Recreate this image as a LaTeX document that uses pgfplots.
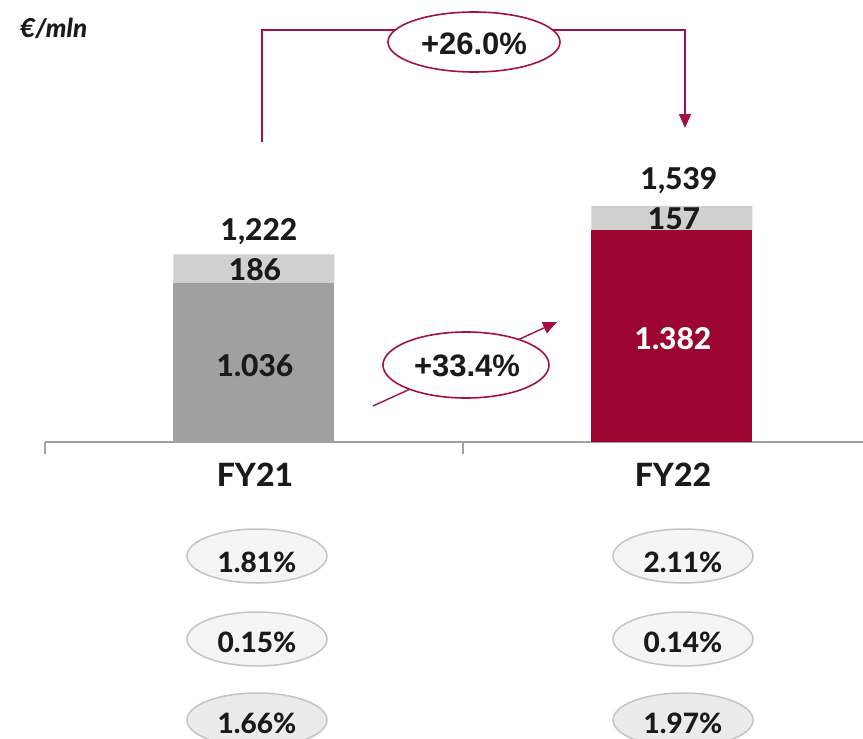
\documentclass[border=0pt]{standalone}
\usepackage{fontspec}
\setmainfont{Lato}[BoldFont={Lato Heavy},BoldItalicFont={Lato Heavy Italic}]
\newfontfamily\arialb{Liberation Sans}[BoldFont={* Bold}]
\usepackage{pgfplots}
\pgfplotsset{compat=1.18}
\usetikzlibrary{arrows.meta}
\definecolor{dgray}{HTML}{A0A0A0}
\definecolor{lgray}{HTML}{D0D0D0}
\definecolor{crim}{HTML}{9B0530}
\definecolor{linec}{HTML}{A3123F}
\definecolor{ovf}{HTML}{F5F5F5}
\definecolor{ovf2}{HTML}{EBEBEB}
\definecolor{ovd}{HTML}{C4C4C4}
\definecolor{txt}{HTML}{1A1A1A}
\newcommand{\fs}[1]{\fontsize{#1}{#1}\selectfont}
\begin{document}
\begin{tikzpicture}
\path[use as bounding box] (0,0) rectangle (863pt,-739pt);
\begin{axis}[
  at={(45pt,-442pt)}, anchor=south west,
  scale only axis, width=818pt, height=442pt,
  xmin=-0.5, xmax=1.457, ymin=0, ymax=2880,
  ybar stacked, bar width=161pt,
  axis y line=none, axis x line*=bottom,
  x axis line style={draw=dgray, line width=1.2pt},
  xtick={-0.5,0.5}, xticklabels={},
  major tick length=12pt, tick align=outside,
  xtick style={draw=dgray, line width=1.2pt},
  clip=false,
]
\addplot[fill=dgray, draw=none] coordinates {(0,1036) (1,0)};
\addplot[fill=crim, draw=none] coordinates {(0,0) (1,1382)};
\addplot[fill=lgray, draw=none] coordinates {(0,186) (1,157)};
\end{axis}
\begin{scope}[x=1pt,y=-1pt]
% top bracket arrow
\draw[linec, line width=2pt, -{Triangle[length=14pt,width=12pt]}] (262,142) -- (262,30) -- (685,30) -- (685,128);
\draw[linec, line width=1.6pt, fill=white] (474,42) ellipse [x radius=86, y radius=30];
\node[anchor=base, txt] at (474,54) {\arialb\bfseries\fs{31}+26.0\%};
% diagonal arrow
\draw[linec, line width=1.4pt, -{Triangle[length=14pt,width=12pt]}] (373,406) -- (557,322);
\draw[linec, line width=1.6pt, fill=white] (466,365) ellipse [x radius=83, y radius=33];
\node[anchor=base, txt] at (467,376) {\arialb\bfseries\fs{31}+33.4\%};
% unit
\node[anchor=base west, txt, inner sep=0pt] at (20,37) {\bfseries\itshape\fs{26}€/mln};
% bar labels
\node[anchor=base, txt] at (259,240) {\bfseries\fs{30}1,222};
\node[anchor=base, txt] at (255,280) {\bfseries\fs{30}186};
\node[anchor=base, txt] at (255,376) {\bfseries\fs{30}1.036};
\node[anchor=base, txt] at (679,189) {\bfseries\fs{30}1,539};
\node[anchor=base, txt] at (674,229) {\bfseries\fs{30}157};
\node[anchor=base, white] at (673,349) {\bfseries\fs{30}1.382};
% categories
\node[anchor=base, txt] at (255,486) {\bfseries\fs{32}FY21};
\node[anchor=base, txt] at (673,486) {\bfseries\fs{32}FY22};
% ovals
\foreach \cx/\a/\b/\c in {257/1.81/0.15/1.66, 683/2.11/0.14/1.97}{
  \draw[ovd, line width=1.5pt, fill=ovf] (\cx,556) ellipse [x radius=70, y radius=27];
  \draw[ovd, line width=1.5pt, fill=ovf] (\cx,639) ellipse [x radius=70, y radius=27];
  \draw[ovd, line width=1.5pt, fill=ovf2] (\cx,720) ellipse [x radius=70, y radius=27];
  \node[anchor=base, txt] at (\cx,572) {\bfseries\fs{28}\a\%};
  \node[anchor=base, txt] at (\cx,652) {\bfseries\fs{28}\b\%};
  \node[anchor=base, txt] at (\cx,733) {\bfseries\fs{28}\c\%};
}
\end{scope}
\end{tikzpicture}
\end{document}
